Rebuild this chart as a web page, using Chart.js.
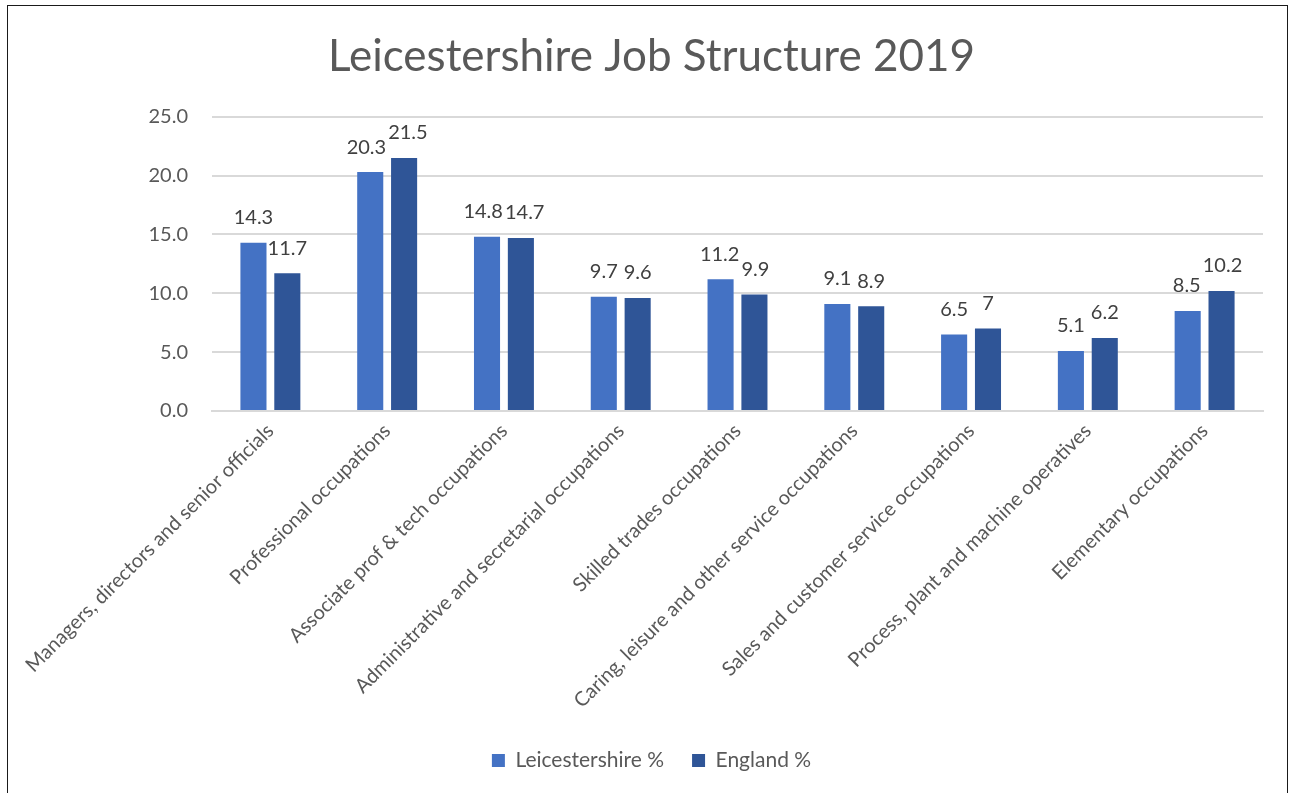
<!DOCTYPE html>
<html>
<head>
<meta charset="utf-8">
<script src="https://cdn.jsdelivr.net/npm/chart.js@4.4.1/dist/chart.umd.min.js"></script>
<style>
  html, body { margin: 0; padding: 0; background: #ffffff; }
  #wrap { position: relative; width: 1293px; height: 793px; }
  #frame { position: absolute; left: 7px; top: 5px; width: 1281px; height: 790px; border: 1px solid #1a1a1a; box-sizing: border-box; pointer-events: none; }
  canvas { position: absolute; left: 0; top: 0; }
</style>
</head>
<body>
<div id="wrap">
  <canvas id="chart" width="1293" height="793"></canvas>
  <div id="frame"></div>
</div>
<script>
const chartTitle = 'Leicestershire Job Structure 2019';
const categories = [
  'Managers, directors and senior officials',
  'Professional occupations',
  'Associate prof & tech occupations',
  'Administrative and secretarial occupations',
  'Skilled trades occupations',
  'Caring, leisure and other service occupations',
  'Sales and customer service occupations',
  'Process, plant and machine operatives',
  'Elementary occupations'
];
const seriesNames = ['Leicestershire %', 'England %'];
const leicestershire = [14.3, 20.3, 14.8, 9.7, 11.2, 9.1, 6.5, 5.1, 8.5];
const england = [11.7, 21.5, 14.7, 9.6, 9.9, 8.9, 7, 6.2, 10.2];
const yTicks = [0, 5, 10, 15, 20, 25];

const FONT = 'Lato, "Open Sans", sans-serif';

// Value labels above each bar; labels of neighbouring bars that collide are nudged apart.
const barValueLabels = {
  id: 'barValueLabels',
  afterDatasetsDraw(chart) {
    const ctx = chart.ctx;
    ctx.save();
    ctx.font = '20px ' + FONT;
    ctx.fillStyle = '#404040';
    ctx.textAlign = 'center';
    ctx.textBaseline = 'middle';
    const n = chart.data.labels.length;
    for (let i = 0; i < n; i++) {
      const items = chart.data.datasets.map((ds, d) => {
        const el = chart.getDatasetMeta(d).data[i];
        const text = String(ds.data[i]);
        return { text, x: el.x, y: el.y - 25, w: ctx.measureText(text).width };
      });
      for (let k = 1; k < items.length; k++) {
        const a = items[k - 1], b = items[k];
        const need = (a.w + b.w) / 2 + 2;
        if (Math.abs(a.y - b.y) < 22 && b.x - a.x < need) {
          const push = need - (b.x - a.x);
          a.x -= push / 2;
          b.x += push / 2;
        }
      }
      items.forEach(it => ctx.fillText(it.text, it.x, it.y));
    }
    ctx.restore();
  }
};

new Chart(document.getElementById('chart'), {
  type: 'bar',
  data: {
    labels: categories,
    datasets: [
      { label: seriesNames[0], data: leicestershire, backgroundColor: '#4472C4', barPercentage: 0.77, categoryPercentage: 0.58 },
      { label: seriesNames[1], data: england, backgroundColor: '#2F5597', barPercentage: 0.77, categoryPercentage: 0.58 }
    ]
  },
  options: {
    responsive: false,
    animation: false,
    devicePixelRatio: 1,
    layout: { padding: { left: 40, right: 30, top: 0, bottom: 12 } },
    plugins: {
      title: {
        display: true,
        text: chartTitle,
        color: '#595959',
        font: { family: FONT, size: 44, weight: 'normal' },
        padding: { top: 30, bottom: 34 }
      },
      legend: {
        position: 'bottom',
        labels: {
          color: '#595959',
          font: { family: FONT, size: 21 },
          boxWidth: 13,
          boxHeight: 13,
          padding: 28
        }
      },
      tooltip: { enabled: false }
    },
    scales: {
      x: {
        afterFit(scale) { scale.height = 311; },
        grid: { display: false, drawTicks: false },
        border: { display: true, color: '#d9d9d9', width: 2 },
        ticks: {
          color: '#595959',
          font: { family: FONT, size: 20 },
          minRotation: 45,
          maxRotation: 45,
          padding: 8,
          autoSkip: false
        }
      },
      y: {
        min: yTicks[0],
        max: yTicks[yTicks.length - 1],
        afterBuildTicks(scale) { scale.ticks = yTicks.map(v => ({ value: v })); },
        afterFit(scale) { scale.width = 172; },
        grid: { color: '#d9d9d9', lineWidth: 2, drawTicks: false },
        border: { display: false },
        ticks: {
          color: '#595959',
          font: { family: FONT, size: 20 },
          padding: 24,
          callback: v => Number(v).toFixed(1)
        }
      }
    }
  },
  plugins: [barValueLabels]
});
</script>
</body>
</html>
